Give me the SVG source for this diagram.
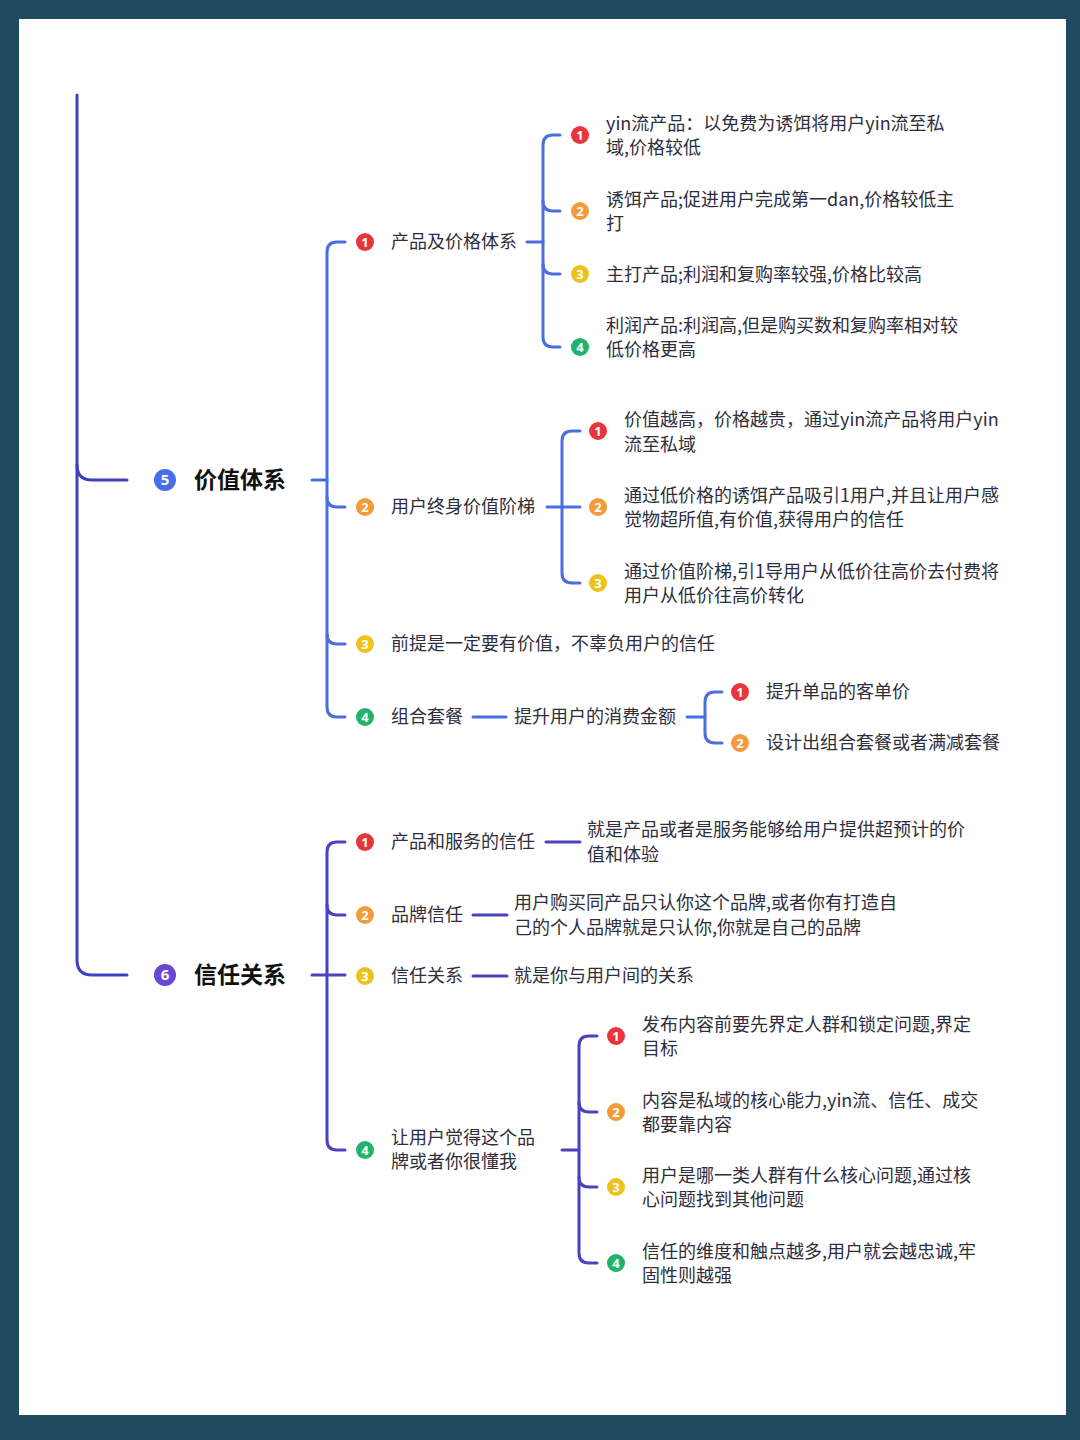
<svg xmlns="http://www.w3.org/2000/svg" width="1080" height="1440" viewBox="0 0 1080 1440">
<style>
.t{font-family:"Noto Sans CJK SC","Noto Sans",sans-serif;font-size:18px;fill:#2e2e3c}
.h{font-family:"Noto Sans CJK SC","Noto Sans",sans-serif;font-size:23px;font-weight:bold;fill:#111}
.n{font-family:"Noto Sans","DejaVu Sans",sans-serif;font-size:13px;font-weight:bold;fill:#fff;text-anchor:middle}
.nb{font-family:"Noto Sans","DejaVu Sans",sans-serif;font-size:15px;font-weight:bold;fill:#fff;text-anchor:middle}
.c{fill:none;stroke-width:3;stroke-linecap:round;stroke-linejoin:round}
.m{stroke:#3f3fc2}
.b{stroke:#4a6ee0}
.p{stroke:#4b42c2}
.red{fill:#e8353b}.org{fill:#f39b3b}.yel{fill:#eec21c}.grn{fill:#21b36b}.blu{fill:#4a6ee8}.pur{fill:#6a48cf}
</style>
<rect x="0" y="0" width="1080" height="1440" fill="#1f4a60"/>
<rect x="19" y="19" width="1047" height="1396" fill="#ffffff"/>

<g id="connectors">
<path class="c m" d="M77,95 V960 Q77,975 92,975 H127"/>
<path class="c m" d="M77,465 Q77,480 92,480 H127"/>
<path class="c b" d="M312,480 H327"/>
<path class="c b" d="M345,242 H337 Q327,242 327,252 V707 Q327,717 337,717 H345"/>
<path class="c b" d="M327,497 Q327,507 337,507 H345"/>
<path class="c b" d="M327,634 Q327,644 337,644 H345"/>
<path class="c b" d="M527,242 H543"/>
<path class="c b" d="M560,135 H553 Q543,135 543,145 V337 Q543,347 553,347 H560"/>
<path class="c b" d="M543,201 Q543,211 553,211 H560"/>
<path class="c b" d="M543,264 Q543,274 553,274 H560"/>
<path class="c b" d="M547,507 H580"/>
<path class="c b" d="M580,431 H572 Q562,431 562,441 V573 Q562,583 572,583 H580"/>
<path class="c b" d="M473,717 H506"/>
<path class="c b" d="M687,717 H705"/>
<path class="c b" d="M722,692 H715 Q705,692 705,702 V733 Q705,743 715,743 H722"/>
<path class="c p" d="M312,975 H345"/>
<path class="c p" d="M345,842 H337 Q327,842 327,852 V1140 Q327,1150 337,1150 H345"/>
<path class="c p" d="M327,905 Q327,915 337,915 H345"/>
<path class="c p" d="M546,842 H580"/>
<path class="c p" d="M473,915 H507"/>
<path class="c p" d="M473,976 H507"/>
<path class="c p" d="M562,1150 H579"/>
<path class="c p" d="M597,1036 H589 Q579,1036 579,1046 V1253 Q579,1263 589,1263 H597"/>
<path class="c p" d="M579,1102 Q579,1112 589,1112 H597"/>
<path class="c p" d="M579,1177 Q579,1187 589,1187 H597"/>
</g>

<g id="n5">
<circle class="blu" cx="165" cy="480" r="11"/><text class="nb" x="165" y="485">5</text>
<text class="h" x="194" y="488">价值体系</text>
</g>
<g id="n5-1">
<circle class="red" cx="365" cy="242" r="9"/><text class="n" x="365" y="246.5">1</text>
<text class="t" x="391" y="248">产品及价格体系</text>
</g>
<g id="n5-1-1">
<circle class="red" cx="580" cy="135" r="9"/><text class="n" x="580" y="139.5">1</text>
<text class="t" x="606" y="130">yin流产品：以免费为诱饵将用户yin流至私</text>
<text class="t" x="606" y="154">域,价格较低</text>
</g>
<g id="n5-1-2">
<circle class="org" cx="580" cy="211" r="9"/><text class="n" x="580" y="215.5">2</text>
<text class="t" x="606" y="206">诱饵产品;促进用户完成第一dan,价格较低主</text>
<text class="t" x="606" y="230">打</text>
</g>
<g id="n5-1-3">
<circle class="yel" cx="580" cy="274" r="9"/><text class="n" x="580" y="278.5">3</text>
<text class="t" x="606" y="281">主打产品;利润和复购率较强,价格比较高</text>
</g>
<g id="n5-1-4">
<circle class="grn" cx="580" cy="347" r="9"/><text class="n" x="580" y="351.5">4</text>
<text class="t" x="606" y="332">利润产品:利润高,但是购买数和复购率相对较</text>
<text class="t" x="606" y="356">低价格更高</text>
</g>
<g id="n5-2">
<circle class="org" cx="365" cy="507" r="9"/><text class="n" x="365" y="511.5">2</text>
<text class="t" x="391" y="513">用户终身价值阶梯</text>
</g>
<g id="n5-2-1">
<circle class="red" cx="598" cy="431" r="9"/><text class="n" x="598" y="435.5">1</text>
<text class="t" x="624" y="426">价值越高，价格越贵，通过yin流产品将用户yin</text>
<text class="t" x="624" y="451">流至私域</text>
</g>
<g id="n5-2-2">
<circle class="org" cx="598" cy="507" r="9"/><text class="n" x="598" y="511.5">2</text>
<text class="t" x="624" y="502">通过低价格的诱饵产品吸引1用户,并且让用户感</text>
<text class="t" x="624" y="526">觉物超所值,有价值,获得用户的信任</text>
</g>
<g id="n5-2-3">
<circle class="yel" cx="598" cy="583" r="9"/><text class="n" x="598" y="587.5">3</text>
<text class="t" x="624" y="578">通过价值阶梯,引1导用户从低价往高价去付费将</text>
<text class="t" x="624" y="602">用户从低价往高价转化</text>
</g>
<g id="n5-3">
<circle class="yel" cx="365" cy="644" r="9"/><text class="n" x="365" y="648.5">3</text>
<text class="t" x="391" y="650">前提是一定要有价值，不辜负用户的信任</text>
</g>
<g id="n5-4">
<circle class="grn" cx="365" cy="717" r="9"/><text class="n" x="365" y="721.5">4</text>
<text class="t" x="391" y="723">组合套餐</text>
</g>
<g id="n5-4-a">
<text class="t" x="514" y="723">提升用户的消费金额</text>
</g>
<g id="n5-4-1">
<circle class="red" cx="740" cy="692" r="9"/><text class="n" x="740" y="696.5">1</text>
<text class="t" x="766" y="698">提升单品的客单价</text>
</g>
<g id="n5-4-2">
<circle class="org" cx="740" cy="743" r="9"/><text class="n" x="740" y="747.5">2</text>
<text class="t" x="766" y="749">设计出组合套餐或者满减套餐</text>
</g>

<g id="n6">
<circle class="pur" cx="165" cy="975" r="11"/><text class="nb" x="165" y="980">6</text>
<text class="h" x="194" y="983">信任关系</text>
</g>
<g id="n6-1">
<circle class="red" cx="365" cy="842" r="9"/><text class="n" x="365" y="846.5">1</text>
<text class="t" x="391" y="848">产品和服务的信任</text>
</g>
<g id="n6-1-a">
<text class="t" x="587" y="836">就是产品或者是服务能够给用户提供超预计的价</text>
<text class="t" x="587" y="861">值和体验</text>
</g>
<g id="n6-2">
<circle class="org" cx="365" cy="915" r="9"/><text class="n" x="365" y="919.5">2</text>
<text class="t" x="391" y="921">品牌信任</text>
</g>
<g id="n6-2-a">
<text class="t" x="514" y="909">用户购买同产品只认你这个品牌,或者你有打造自</text>
<text class="t" x="514" y="934">己的个人品牌就是只认你,你就是自己的品牌</text>
</g>
<g id="n6-3">
<circle class="yel" cx="365" cy="976" r="9"/><text class="n" x="365" y="980.5">3</text>
<text class="t" x="391" y="982">信任关系</text>
</g>
<g id="n6-3-a">
<text class="t" x="514" y="982">就是你与用户间的关系</text>
</g>
<g id="n6-4">
<circle class="grn" cx="365" cy="1150" r="9"/><text class="n" x="365" y="1154.5">4</text>
<text class="t" x="391" y="1144">让用户觉得这个品</text>
<text class="t" x="391" y="1168">牌或者你很懂我</text>
</g>
<g id="n6-4-1">
<circle class="red" cx="616" cy="1036" r="9"/><text class="n" x="616" y="1040.5">1</text>
<text class="t" x="642" y="1031">发布内容前要先界定人群和锁定问题,界定</text>
<text class="t" x="642" y="1055">目标</text>
</g>
<g id="n6-4-2">
<circle class="org" cx="616" cy="1112" r="9"/><text class="n" x="616" y="1116.5">2</text>
<text class="t" x="642" y="1107">内容是私域的核心能力,yin流、信任、成交</text>
<text class="t" x="642" y="1131">都要靠内容</text>
</g>
<g id="n6-4-3">
<circle class="yel" cx="616" cy="1187" r="9"/><text class="n" x="616" y="1191.5">3</text>
<text class="t" x="642" y="1182">用户是哪一类人群有什么核心问题,通过核</text>
<text class="t" x="642" y="1206">心问题找到其他问题</text>
</g>
<g id="n6-4-4">
<circle class="grn" cx="616" cy="1263" r="9"/><text class="n" x="616" y="1267.5">4</text>
<text class="t" x="642" y="1258">信任的维度和触点越多,用户就会越忠诚,牢</text>
<text class="t" x="642" y="1282">固性则越强</text>
</g>
</svg>
